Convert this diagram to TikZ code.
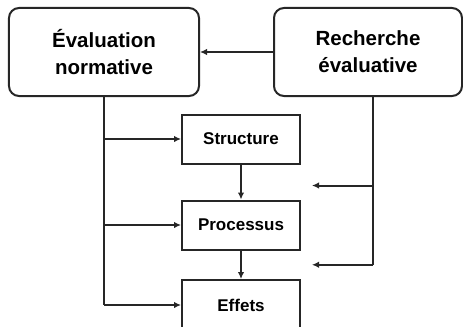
\documentclass[tikz,border=0pt]{standalone}
\usepackage{fontspec}
\setmainfont{Liberation Sans}
\usetikzlibrary{arrows.meta,calc}
\tikzset{
  bigbox/.style={draw=black!85, line width=2bp, rounded corners=10bp, minimum width=190bp, minimum height=88bp, align=center, font=\bfseries\fontsize{20.5bp}{27bp}\selectfont},
  stagebox/.style={draw=black!85, line width=2bp, minimum width=118bp, minimum height=49bp, font=\bfseries\fontsize{17bp}{20bp}\selectfont},
  link/.style={draw=black!85, line width=2bp, -{Latex[length=7bp,width=6.5bp]}},
  trunk/.style={draw=black!85, line width=2bp},
}

\begin{document}
\begin{tikzpicture}[x=1bp,y=1bp]
\useasboundingbox (0,0) rectangle (463,326);
\clip (0,0) rectangle (463,326);
\node[bigbox] (eval) at (104,274) {Évaluation\\normative};
\node[bigbox, minimum width=188bp] (rech) at (368,274) {Recherche\\évaluative};
\node[stagebox] (struct) at (241,187) {Structure};
\node[stagebox] (proc) at (241,101) {Processus};
\node[stagebox, minimum height=50bp] (eff) at (241,21) {Effets};
\draw[link] (rech) -- (eval);
% left trunk
\coordinate (lbot) at (eval.south |- eff.west);
\draw[trunk] (eval.south) -- (lbot);
\draw[link] (eval.south |- struct.west) -- (struct.west);
\draw[link] (eval.south |- proc.west) -- (proc.west);
\draw[link] (lbot) -- (eff.west);
% between the stages
\draw[link] (struct) -- (proc);
\draw[link] (proc) -- (eff);
% right trunk
\coordinate (mida) at ($(struct.south)!0.6!(proc.north)$);
\coordinate (midb) at ($(proc.south)!0.5!(eff.north)$);
\coordinate (rtop) at ($(rech.south)+(5,0)$);
\coordinate (rbot) at (rtop |- midb);
\draw[trunk] (rtop) -- (rbot);
\draw[link] (rtop |- mida) -- ($(mida)+(71,0)$);
\draw[link] (rbot) -- ($(midb)+(71,0)$);
\end{tikzpicture}
\end{document}
